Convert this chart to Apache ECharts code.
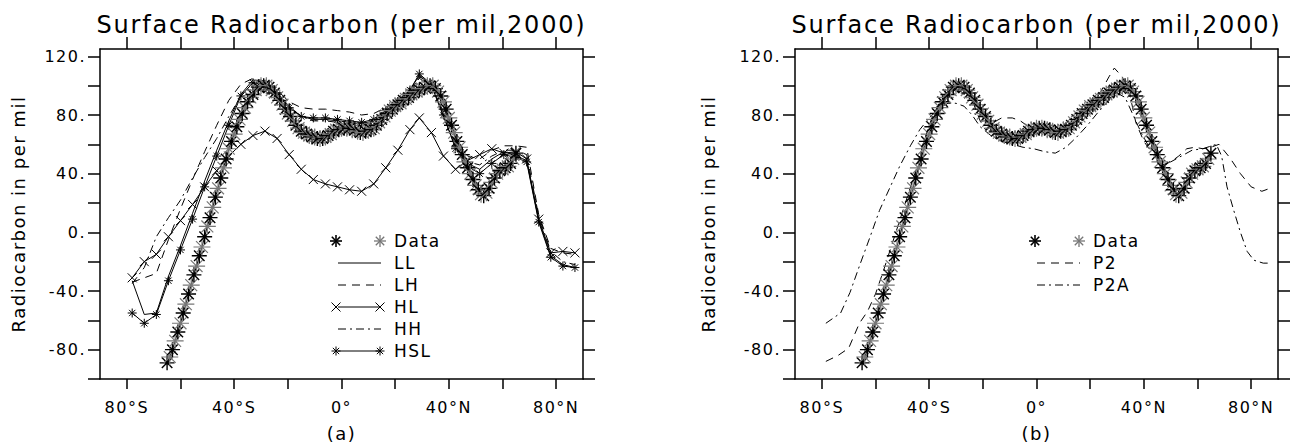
<!DOCTYPE html>
<html>
<head>
<meta charset="utf-8">
<title>Surface Radiocarbon</title>
<script src="https://cdn.jsdelivr.net/npm/echarts@6/dist/echarts.min.js"></script>
<style>
  html, body { margin: 0; padding: 0; background: #fff; }
  #chart { width: 1294px; height: 447px; }
  #chart text { letter-spacing: 1.5px; }
  #chart text[style*="24px"] { letter-spacing: 1.8px; }
</style>
</head>
<body>
<div id="chart"></div>
<script>
// axis ticks and labels
const latTicks = [-80, -60, -40, -20, 0, 20, 40, 60, 80];
const latLabelValues = [-80, -40, 0, 40, 80];
const latLabels = ["80°S", "40°S", "0°", "40°N", "80°N"];
const valTicks = [-100, -80, -60, -40, -20, 0, 20, 40, 60, 80, 100, 120];
const valLabelValues = [-80, -40, 0, 40, 80, 120];
const valLabels = ["-80.", "-40.", "0.", "40.", "80.", "120."];

// observed surface radiocarbon, 1 degree grid (both panels)
const dataLat = [-65, -64, -63, -62, -61, -60, -59, -58, -57, -56, -55, -54, -53, -52, -51, -50,
  -49, -48, -47, -46, -45, -44, -43, -42, -41, -40, -39, -38, -37, -36, -35, -34, -33, -32, -31, -30,
  -29, -28, -27, -26, -25, -24, -23, -22, -21, -20, -19, -18, -17, -16, -15, -14, -13, -12, -11, -10,
  -9, -8, -7, -6, -5, -4, -3, -2, -1, 0, 1, 2, 3, 4, 5, 6, 7, 8, 9, 10, 11, 12, 13, 14, 15, 16, 17,
  18, 19, 20, 21, 22, 23, 24, 25, 26, 27, 28, 29, 30, 31, 32, 33, 34, 35, 36, 37, 38, 39, 40, 41, 42,
  43, 44, 45, 46, 47, 48, 49, 50, 51, 52, 53, 54, 55, 56, 57, 58, 59, 60, 61, 62, 63, 64, 65];
const dataVal = [-89, -85, -80, -74, -68, -62, -55, -49, -42, -36, -29, -23, -16, -10, -3, 4,
  10, 17, 24, 30, 37, 44, 50, 57, 62, 67, 72, 77, 81, 85, 89, 92, 94, 97, 99, 100,
  100, 100, 99, 97, 95, 92, 90, 87, 84, 81, 79, 76, 73, 71, 69, 68, 67, 66, 65, 65,
  64, 64, 64, 65, 66, 67, 69, 70, 70, 71, 71, 71, 71, 70, 70, 69, 68, 68, 69, 70, 70, 71, 73, 75, 77, 79, 81,
  83, 84, 86, 87, 88, 90, 91, 92, 94, 95, 96, 97, 98, 99, 100, 100, 100, 98, 96, 93, 89, 84, 78, 73, 68,
  62, 58, 53, 48, 44, 40, 36, 32, 29, 26, 25, 27, 30, 34, 37, 40, 42, 43, 44, 45, 47, 50, 54];

// panel (a) model runs
const modelLat = [-78, -73.5, -69, -64.5, -60, -55.5, -51, -46.5, -42, -37.5, -33, -28.5, -24, -19.5,
  -15, -10.5, -6, -1.5, 3, 7.5, 12, 16.5, 21, 25.5, 29, 33.5, 38, 42.5, 47, 51.5, 56, 60.5, 65, 69,
  73.5, 78, 82.5, 87];
const llVal = [-33, -56, -55, -30, -9, 13, 35, 56, 76, 94, 104, 102, 95, 86, 79, 77, 77, 76, 75, 74,
  76, 82, 88, 97, 107, 100, 79, 58, 47, 43, 50, 55, 52, 49, 8, -16, -22, -24];
const lhVal = [-34, -31, -28, -5, 16, 36, 55, 73, 90, 101, 105, 103, 97, 89, 85, 84, 84, 83, 82, 80,
  81, 85, 90, 97, 106, 102, 86, 64, 52, 50, 56, 59, 59, 58, 12, -11, -14, -15];
const hlVal = [-31, -20, -15, -3, 8, 19, 31, 42, 52, 60, 66, 69, 64, 53, 43, 36, 33, 31, 29, 28,
  33, 44, 56, 70, 78, 68, 52, 43, 49, 53, 57, 54, 55, 50, 9, -14, -13, -14];
const hhVal = [-35, -24, -3, 10, 22, 37, 51, 64, 79, 93, 102, 101, 94, 85, 79, 76, 76, 75, 74, 73,
  75, 81, 88, 96, 105, 100, 82, 60, 48, 46, 52, 56, 56, 53, 11, -13, -20, -22];
const hslVal = [-55, -62, -56, -33, -12, 9, 31, 52, 73, 93, 102, 101, 94, 85, 79, 78, 78, 77, 76, 75,
  77, 83, 89, 97, 108, 101, 80, 57, 45, 40, 47, 53, 51, 48, 7, -17, -23, -24];

// panel (b) model runs
const p2Lat = [-78.5, -74, -70, -66, -63, -60, -57, -54, -51, -48, -45, -42, -39, -36, -33, -30, -27,
  -24, -21, -19, -16, -13, -9, -6, -3, 0, 3, 6, 9, 12, 15, 18, 21, 24, 27, 29, 32, 35, 37, 40, 44,
  47, 50, 53, 56, 59, 62, 65, 68, 72, 76, 80, 84, 87];
const p2Val = [-88, -84, -79, -62, -54, -42, -26, -9, 8, 25, 42, 62, 78, 89, 96, 99, 97,
  90, 76, 70, 75, 78, 78, 76, 72, 70, 70, 69, 69, 70, 74, 84, 90, 96, 106, 112, 106, 92, 75, 62, 52,
  46, 48, 52, 57, 58, 57, 58, 60, 51, 40, 31, 28, 30];
const p2aLat = [-78.5, -73, -69.5, -66, -62, -58.5, -54.5, -51, -47, -43.5, -40, -36, -33, -30, -27,
  -24, -21, -17, -13, -9, -5, -1, 3, 7, 11, 15, 19, 23, 27, 30, 33, 36, 39, 42, 46, 50, 54, 58, 62,
  67, 69, 71, 73.5, 76, 78.5, 81, 84.5, 87];
const p2aVal = [-62, -55, -41, -23, -3, 15, 31, 45, 59, 70, 78, 85, 88, 88, 86,
  80, 72, 66, 62, 60, 58, 57, 55, 54, 58, 65, 73, 82, 90, 95, 92, 80, 68, 58, 50, 48, 52, 56, 57,
  60, 52, 31, 15, 0, -13, -19, -21, -21];

const FONT = '"DejaVu Sans"';
const STAR = "path://M0,-1L0,1M-1,0L1,0M-0.7,-0.7L0.7,0.7M-0.7,0.7L0.7,-0.7";
const CROSS = "path://M-1,-1L1,1M-1,1L1,-1";
// the same glyphs as stroke lists for the legend keys
const STAR_STROKES = [[0, -1, 0, 1], [-1, 0, 1, 0], [-0.7, -0.7, 0.7, 0.7], [-0.7, 0.7, 0.7, -0.7]];
const CROSS_STROKES = [[-1, -1, 1, 1], [-1, 1, 1, -1]];
const DASH = [8, 6];
const DASH_DOT = [8, 4, 2, 4];

const pairs = (lat, val) => lat.map((x, i) => [x, val[i]]);

const chart = echarts.init(document.getElementById("chart"), null, { renderer: "svg" });

const makeXAxes = (gridIndex, caption) => [
  {
    type: "value", gridIndex, position: "bottom", min: -90, max: 90,
    name: caption, nameLocation: "middle", nameGap: 45,
    nameTextStyle: { fontSize: 18, fontFamily: FONT, color: "#000" },
    axisLine: { show: true, onZero: false, lineStyle: { color: "#000", width: 1.5 } },
    axisTick: { show: true, length: 10, customValues: latTicks, lineStyle: { color: "#000", width: 1.5 } },
    axisLabel: {
      customValues: latLabelValues, margin: 20, fontSize: 16, fontFamily: FONT, color: "#000",
      formatter: (v) => latLabels[latLabelValues.indexOf(v)],
    },
    splitLine: { show: false },
  },
  {
    type: "value", gridIndex, position: "top", min: -90, max: 90,
    name: "Surface Radiocarbon (per mil,2000)", nameLocation: "middle", nameGap: 12,
    nameTextStyle: { fontSize: 24, fontFamily: FONT, color: "#000" },
    axisLine: { show: true, onZero: false, lineStyle: { color: "#000", width: 1.5 } },
    axisTick: { show: true, length: 12, customValues: latTicks, lineStyle: { color: "#000", width: 1.5 } },
    axisLabel: { show: false },
    splitLine: { show: false },
  },
];

const makeYAxes = (gridIndex, gap) => [
  {
    type: "value", gridIndex, position: "left", min: -100, max: 125,
    name: "Radiocarbon in per mil", nameLocation: "middle", nameGap: gap,
    nameTextStyle: { fontSize: 18, fontFamily: FONT, color: "#000" },
    axisLine: { show: true, onZero: false, lineStyle: { color: "#000", width: 1.5 } },
    axisTick: { show: true, length: 12, customValues: valTicks, lineStyle: { color: "#000", width: 1.5 } },
    axisLabel: {
      customValues: valLabelValues, margin: 14, fontSize: 16, fontFamily: FONT, color: "#000",
      formatter: (v) => valLabels[valLabelValues.indexOf(v)],
    },
    splitLine: { show: false },
  },
  {
    type: "value", gridIndex, position: "right", min: -100, max: 125,
    axisLine: { show: true, onZero: false, lineStyle: { color: "#000", width: 1.5 } },
    axisTick: { show: true, length: 12, customValues: valTicks, lineStyle: { color: "#000", width: 1.5 } },
    axisLabel: { show: false },
    splitLine: { show: false },
  },
];

const modelSeries = (name, lat, val, panel, dash, mark) => ({
  name, type: "line", xAxisIndex: panel * 2, yAxisIndex: panel * 2,
  data: pairs(lat, val),
  symbol: mark || "none",
  symbolSize: 9,
  itemStyle: { color: "#000", borderColor: "#000", borderWidth: 1 },
  lineStyle: { color: "#000", width: 1, type: dash },
  silent: true, z: 3,
});

const dataSeries = (panel) => ({
  name: "Data", type: "line", xAxisIndex: panel * 2, yAxisIndex: panel * 2,
  data: dataLat.map((x, i) => ({
    value: [x, dataVal[i]],
    symbolSize: i % 2 ? 17 : 15,
    itemStyle: { borderColor: i % 2 ? "#777" : "#000", borderWidth: i % 2 ? 1.2 : 1.4 },
  })),
  symbol: STAR,
  itemStyle: { color: "#000" },
  lineStyle: { color: "#000", width: 1 },
  silent: true, z: 5,
});

// legends, drawn as small keys inside each panel
const legendA = [
  { name: "Data", data: true },
  { name: "LL", dash: "solid" },
  { name: "LH", dash: DASH },
  { name: "HL", dash: "solid", mark: CROSS_STROKES },
  { name: "HH", dash: DASH_DOT },
  { name: "HSL", dash: "solid", mark: STAR_STROKES },
];
const legendB = [
  { name: "Data", data: true },
  { name: "P2", dash: DASH },
  { name: "P2A", dash: DASH_DOT },
];

const marker = (strokes, cx, cy, size, color, lw) => strokes.map((s) => ({
  type: "line", silent: true,
  shape: { x1: cx + s[0] * size / 2, y1: cy + s[1] * size / 2, x2: cx + s[2] * size / 2, y2: cy + s[3] * size / 2 },
  style: { stroke: color, lineWidth: lw },
}));

const buildLegend = (items, x0, y0) => {
  const out = [];
  items.forEach((it, i) => {
    const y = y0 + i * 22;
    if (it.data) {
      out.push(...marker(STAR_STROKES, x0, y, 12, "#000", 1.6));
      out.push(...marker(STAR_STROKES, x0 + 44, y, 12, "#777", 1.3));
    } else {
      const key = {
        type: "line", silent: true,
        shape: { x1: x0 + 2, y1: y, x2: x0 + 45, y2: y },
        style: { stroke: "#000", lineWidth: 1 },
      };
      if (it.dash !== "solid") key.style.lineDash = it.dash;
      out.push(key);
      if (it.mark) {
        out.push(...marker(it.mark, x0, y, 9, "#000", 1));
        out.push(...marker(it.mark, x0 + 44, y, 9, "#000", 1));
      }
    }
    out.push({
      type: "text", silent: true, x: x0 + 58, y,
      style: { text: it.name, font: "17px " + FONT, fill: "#000", textAlign: "left", textVerticalAlign: "middle" },
    });
  });
  return out;
};

const option = {
  animation: false,
  backgroundColor: "#fff",
  grid: [
    { left: 100, top: 49, width: 483, height: 330, outerBoundsMode: "none" },
    { left: 795, top: 49, width: 483, height: 330, outerBoundsMode: "none" },
  ],
  xAxis: [...makeXAxes(0, "(a)"), ...makeXAxes(1, "(b)")],
  yAxis: [...makeYAxes(0, 73), ...makeYAxes(1, 78)],
  series: [
    modelSeries("LL", modelLat, llVal, 0, "solid", null),
    modelSeries("LH", modelLat, lhVal, 0, DASH, null),
    modelSeries("HL", modelLat, hlVal, 0, "solid", CROSS),
    modelSeries("HH", modelLat, hhVal, 0, DASH_DOT, null),
    modelSeries("HSL", modelLat, hslVal, 0, "solid", STAR),
    dataSeries(0),
    modelSeries("P2", p2Lat, p2Val, 1, DASH, null),
    modelSeries("P2A", p2aLat, p2aVal, 1, DASH_DOT, null),
    dataSeries(1),
  ],
  graphic: [...buildLegend(legendA, 336, 241), ...buildLegend(legendB, 1035, 241)],
};

chart.setOption(option);
</script>
</body>
</html>
